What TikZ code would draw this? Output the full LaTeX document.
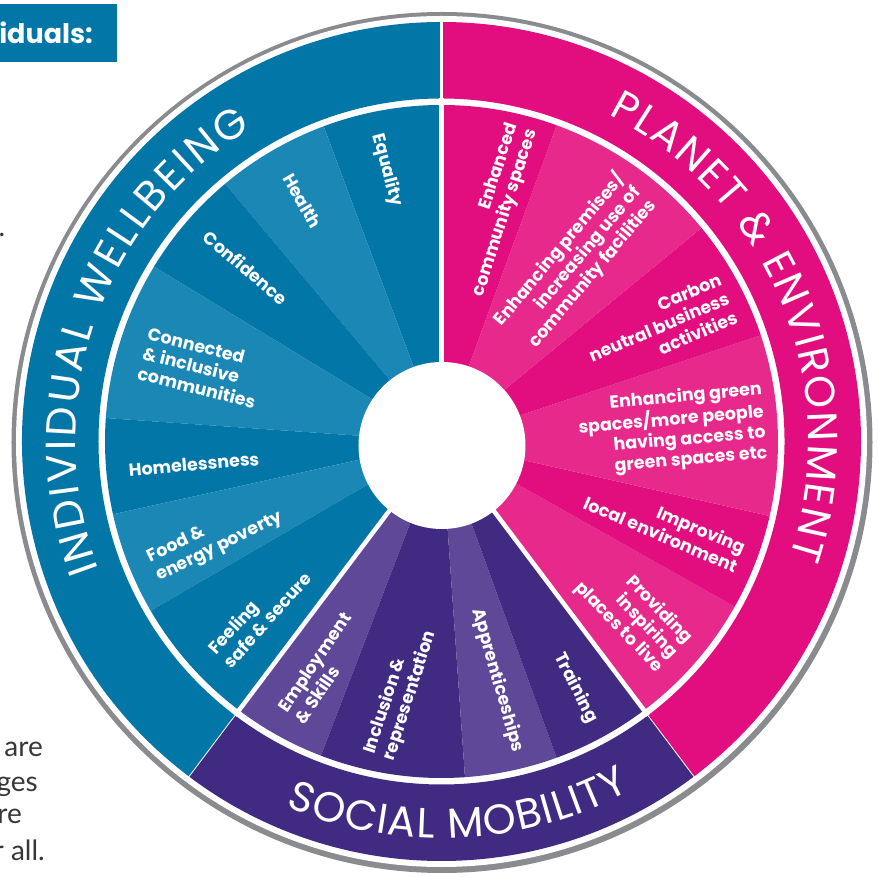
\documentclass[tikz,border=0pt]{standalone}
\usepackage{fontspec}
\setmainfont{Poppins}
\newfontfamily\bodyfont{Lato}
\usepackage{tikz}
\usetikzlibrary{decorations.text}

\definecolor{bluedark}{RGB}{3,118,168}
\definecolor{bluelight}{RGB}{27,135,180}
\definecolor{pinkdark}{RGB}{226,13,126}
\definecolor{pinklight}{RGB}{231,41,140}
\definecolor{purpledark}{RGB}{65,42,130}
\definecolor{purplelight}{RGB}{95,72,151}
\definecolor{ringgray}{RGB}{138,139,143}
\definecolor{bodygray}{RGB}{55,55,55}

\tikzset{
  item/.style={text=white, font=\bfseries\fontsize{17.5}{20.5}\selectfont, inner sep=0pt},
  bodytext/.style={text=bodygray, font=\bodyfont\fontsize{28}{34}\selectfont, inner sep=0pt, anchor=base east},
  ringtext/.style={decorate, decoration={text along path, text align=fit to path, text color=white,
    text={|\fontsize{42}{42}\selectfont|#1}}}
}

\begin{document}
\begin{tikzpicture}[x=1pt, y=1pt]
	\useasboundingbox (-441.5,-435.5) rectangle (436.5,441.5);

	% Kasten oben links
	\fill[bluedark] (-441.5,437.5) rectangle (-324.5,379.5);
	\node[text=white, font=\bfseries\fontsize{27}{27}\selectfont, inner sep=0pt, anchor=base east] (title) at (-348.5,398.2) {iduals:};

	% Text links
	\node[bodytext] (dot) at (-436,204.5) {.};
	\node[bodytext] (line1) at (-398.5,-314.5) {are};
	\node[bodytext] (line2) at (-403.5,-349.8) {ges};
	\node[bodytext] (line3) at (-419.5,-381.5) {re};
	\node[bodytext] (line4) at (-396.5,-418.5) {r all.};

	% Rand
	\fill[ringgray] (0.5,-1) circle (430.5);
	\fill[white] (0,0) circle (425.5);

	% Aussenring
	\foreach \a/\b/\c in {90/233/bluedark, 233/307/purpledark, -53/90/pinkdark}{
		\fill[\c] (\a:343) arc[start angle=\a, end angle=\b, radius=343] -- (\b:419.5) arc[start angle=\b, end angle=\a, radius=419.5] -- cycle;
	}

	% Segmente
	\foreach \a/\b/\c in {
		90/110.5/bluedark, 110.5/130/bluelight, 130/148.7/bluedark, 148.7/176/bluelight,
		176/192.5/bluedark, 192.5/210.2/bluelight, 210.2/233/bluedark,
		233/249/purplelight, 249/274/purpledark, 274/290/purplelight, 290/307/purpledark,
		-53/-29.4/pinklight, -29.4/-12.8/pinkdark, -12.8/18.4/pinklight,
		18.4/39.4/pinkdark, 39.4/70/pinklight, 70/90/pinkdark}{
		\fill[\c] (0,0) -- (\a:336.5) arc[start angle=\a, end angle=\b, radius=336.5] -- cycle;
	}

	% Trennlinien
	\foreach \w in {90,233,307}{
		\draw[white, line width=4.5pt] (0,0) -- (\w:343);
	}
	\draw[white, line width=2.7pt] (90:342) -- (90:421);
	\foreach \w in {233,307}{
		\draw[white, line width=0.8pt] (\w:342) -- (\w:421);
	}

	% Mitte
	\fill[white] (0.5,-4) circle (83.5);

	% Ringtexte
	\path[ringtext={INDIVIDUAL WELLBEING}]
		(200.5:366) arc[start angle=200.5, end angle=121.3, radius=366];
	\path[ringtext={PLANET {\&} ENVIRONMENT}]
		(63:367) arc[start angle=63, end angle=-18.4, radius=367];
	\path[ringtext={SOCIAL MOBILITY}]
		(246.8:397) arc[start angle=246.8, end angle=298.4, radius=397];

	% Labels blau
	\foreach \x/\y/\r/\t [count=\i] in {
		-54.5/271.5/-75/{Equality},
		-139/240.5/-60/{Health},
		-195.5/174/-40/{Confidence},
		-239.9/73.7/-14/{Connected\\ \& inclusive\\ communities},
		-247.5/-23/5/{Homelessness},
		-226.2/-96.4/26/{Food \&\\ energy poverty},
		-182.1/-171.6/48/{Feeling\\ safe \& secure}}{
		\node[item, align=left, rotate=\r] (b\i) at (\x,\y) {\t};
	}

	% Labels pink
	\foreach \x/\y/\r/\t [count=\i] in {
		54.5/231.5/72/{Enhanced\\ community spaces},
		133.3/179.2/50/{Enhancing premises/\\ increasing use of\\ community facilities},
		217.5/114.5/23/{Carbon\\ neutral business\\ activities},
		230.5/11.5/5/{Enhancing green\\ spaces/more people\\ having access to\\ green spaces etc},
		223.2/-83.3/-23/{Improving\\ local environment},
		192/-171.5/-46/{Providing\\ inspiring\\ places to live}}{
		\node[item, align=right, rotate=\r] (p\i) at (\x,\y) {\t};
	}

	% Labels lila
	\foreach \x/\y/\r/\t [count=\i] in {
		-118.5/-226.5/56/{Employment\\ \& Skills},
		-41/-251/72/{Inclusion \&\\ representation},
		56/-239/-74/{Apprenticeships},
		134/-246.5/-63/{Training}}{
		\node[item, align=left, rotate=\r] (m\i) at (\x,\y) {\t};
	}
\end{tikzpicture}
\end{document}
